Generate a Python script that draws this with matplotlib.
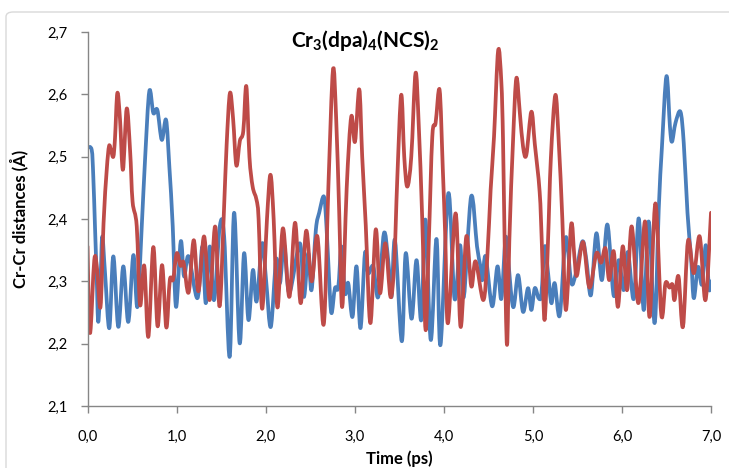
import numpy as np
import matplotlib.pyplot as plt
from matplotlib.patches import FancyBboxPatch, PathPatch
from matplotlib.path import Path

plt.rcParams["font.family"] = ["Lato", "DejaVu Sans"]
plt.rcParams["mathtext.default"] = "regular"

# time (ps) and Cr-Cr distance (Angstrom)
blue_t = [0.000, 0.047, 0.065, 0.084, 0.103, 0.121, 0.148, 0.166, 0.197, 0.245,
          0.290, 0.346, 0.402, 0.458, 0.515, 0.560, 0.609, 0.646, 0.694, 0.739,
          0.784, 0.834, 0.882, 0.919, 0.957, 0.994, 1.047, 1.084, 1.135, 1.234,
          1.290, 1.328, 1.373, 1.421, 1.485, 1.534, 1.596, 1.646, 1.708, 1.758,
          1.807, 1.857, 1.899, 1.961, 2.006, 2.058, 2.118, 2.160, 2.208, 2.266,
          2.384, 2.429, 2.478, 2.515, 2.564, 2.601, 2.654, 2.683, 2.713, 2.739,
          2.778, 2.815, 2.852, 2.890, 2.927, 2.975, 3.020, 3.065, 3.115, 3.152,
          3.208, 3.264, 3.328, 3.376, 3.413, 3.452, 3.528, 3.573, 3.638, 3.694,
          3.747, 3.794, 3.854, 3.918, 3.963, 4.051, 4.121, 4.183, 4.225, 4.307,
          4.373, 4.410, 4.433, 4.470, 4.543, 4.603, 4.646, 4.691, 4.713, 4.778,
          4.834, 4.890, 4.946, 4.983, 5.022, 5.065, 5.096, 5.133, 5.171, 5.208,
          5.245, 5.301, 5.360, 5.388, 5.433, 5.483, 5.556, 5.601, 5.652, 5.713,
          5.775, 5.837, 5.908, 5.964, 6.020, 6.067, 6.133, 6.189, 6.245, 6.301,
          6.367, 6.413, 6.449, 6.500, 6.539, 6.562, 6.601, 6.657, 6.694, 6.736,
          6.778, 6.807, 6.854, 6.899, 6.942, 6.978, 7.000]
blue_d = [2.515, 2.511, 2.468, 2.388, 2.308, 2.235, 2.310, 2.372, 2.313, 2.225,
          2.340, 2.227, 2.324, 2.235, 2.342, 2.259, 2.388, 2.495, 2.605, 2.570,
          2.575, 2.527, 2.559, 2.484, 2.388, 2.259, 2.364, 2.308, 2.340, 2.273,
          2.356, 2.265, 2.356, 2.270, 2.388, 2.372, 2.179, 2.410, 2.201, 2.345,
          2.238, 2.318, 2.268, 2.361, 2.300, 2.227, 2.335, 2.297, 2.358, 2.282,
          2.361, 2.275, 2.345, 2.286, 2.383, 2.410, 2.436, 2.388, 2.302, 2.249,
          2.289, 2.290, 2.356, 2.281, 2.297, 2.243, 2.324, 2.225, 2.345, 2.313,
          2.324, 2.275, 2.377, 2.334, 2.275, 2.366, 2.204, 2.345, 2.240, 2.334,
          2.238, 2.399, 2.206, 2.368, 2.198, 2.441, 2.272, 2.358, 2.275, 2.436,
          2.356, 2.325, 2.302, 2.340, 2.260, 2.324, 2.272, 2.366, 2.350, 2.259,
          2.310, 2.251, 2.289, 2.254, 2.289, 2.273, 2.280, 2.356, 2.313, 2.265,
          2.297, 2.245, 2.361, 2.358, 2.297, 2.313, 2.364, 2.334, 2.278, 2.377,
          2.302, 2.391, 2.277, 2.334, 2.286, 2.347, 2.272, 2.401, 2.254, 2.396,
          2.233, 2.415, 2.515, 2.629, 2.548, 2.524, 2.554, 2.572, 2.522, 2.410,
          2.334, 2.273, 2.323, 2.295, 2.358, 2.288, 2.300]

red_t = [0.000, 0.028, 0.076, 0.107, 0.146, 0.180, 0.216, 0.242, 0.264, 0.290,
         0.309, 0.335, 0.365, 0.398, 0.440, 0.478, 0.506, 0.553, 0.590, 0.637,
         0.683, 0.739, 0.787, 0.837, 0.885, 0.924, 0.961, 1.002, 1.045, 1.079,
         1.135, 1.193, 1.245, 1.309, 1.371, 1.433, 1.483, 1.531, 1.562, 1.599,
         1.635, 1.671, 1.710, 1.749, 1.783, 1.818, 1.854, 1.897, 1.921, 1.961,
         2.015, 2.054, 2.090, 2.133, 2.194, 2.266, 2.331, 2.393, 2.455, 2.517,
         2.581, 2.652, 2.704, 2.756, 2.792, 2.826, 2.860, 2.910, 2.961, 3.003,
         3.051, 3.084, 3.124, 3.176, 3.236, 3.284, 3.343, 3.402, 3.444, 3.478,
         3.522, 3.556, 3.590, 3.635, 3.683, 3.719, 3.758, 3.796, 3.831, 3.871,
         3.908, 3.953, 3.989, 4.017, 4.047, 4.133, 4.189, 4.253, 4.309, 4.357,
         4.444, 4.489, 4.526, 4.564, 4.610, 4.646, 4.665, 4.683, 4.710, 4.736,
         4.778, 4.815, 4.854, 4.890, 4.927, 4.983, 5.022, 5.076, 5.101, 5.131,
         5.169, 5.202, 5.253, 5.292, 5.331, 5.371, 5.430, 5.466, 5.494, 5.564,
         5.635, 5.713, 5.766, 5.815, 5.857, 5.908, 5.955, 6.009, 6.058, 6.110,
         6.185, 6.260, 6.311, 6.376, 6.442, 6.489, 6.534, 6.567, 6.590, 6.635,
         6.685, 6.742, 6.807, 6.873, 6.938, 7.000]
red_d = [2.356, 2.217, 2.334, 2.320, 2.259, 2.393, 2.479, 2.517, 2.510, 2.500,
         2.530, 2.602, 2.560, 2.479, 2.577, 2.510, 2.428, 2.388, 2.262, 2.325,
         2.211, 2.355, 2.228, 2.326, 2.226, 2.302, 2.303, 2.345, 2.325, 2.330,
         2.282, 2.366, 2.284, 2.372, 2.270, 2.388, 2.260, 2.410, 2.519, 2.602,
         2.560, 2.486, 2.525, 2.541, 2.613, 2.500, 2.452, 2.431, 2.400, 2.256,
         2.400, 2.471, 2.400, 2.258, 2.385, 2.275, 2.394, 2.265, 2.381, 2.300,
         2.372, 2.231, 2.450, 2.639, 2.560, 2.410, 2.259, 2.450, 2.564, 2.524,
         2.608, 2.500, 2.390, 2.233, 2.383, 2.281, 2.361, 2.275, 2.330, 2.465,
         2.599, 2.500, 2.452, 2.500, 2.634, 2.550, 2.400, 2.222, 2.360, 2.532,
         2.554, 2.607, 2.480, 2.370, 2.233, 2.409, 2.227, 2.372, 2.292, 2.332,
         2.270, 2.340, 2.447, 2.532, 2.670, 2.620, 2.527, 2.366, 2.198, 2.366,
         2.527, 2.626, 2.570, 2.516, 2.503, 2.572, 2.520, 2.444, 2.360, 2.238,
         2.360, 2.497, 2.599, 2.520, 2.400, 2.254, 2.391, 2.340, 2.309, 2.363,
         2.290, 2.345, 2.330, 2.353, 2.302, 2.348, 2.259, 2.356, 2.286, 2.388,
         2.265, 2.396, 2.243, 2.425, 2.246, 2.297, 2.290, 2.295, 2.270, 2.308,
         2.227, 2.365, 2.313, 2.372, 2.270, 2.410]

x_ticks = [0, 1, 2, 3, 4, 5, 6, 7]
y_ticks = [2.1, 2.2, 2.3, 2.4, 2.5, 2.6, 2.7]


def smooth_path(t, d):
    # spreadsheet-style "smoothed line": cubic Bezier through every data point
    p = np.column_stack([t, d])
    q = np.vstack([p[0], p, p[-1]])
    verts = [p[0]]
    codes = [Path.MOVETO]
    for i in range(len(p) - 1):
        c1 = p[i] + (q[i + 2] - q[i]) / 6
        c2 = p[i + 1] - (q[i + 3] - q[i + 1]) / 6
        verts += [c1, c2, p[i + 1]]
        codes += [Path.CURVE4] * 3
    return Path(verts, codes)


fig = plt.figure(figsize=(7.29, 4.68), dpi=100)
# light chart-area frame like the spreadsheet export
fig.patches.append(FancyBboxPatch((6 / 729, -0.05), 1.05, 1 - 12 / 468 + 0.05,
                                  boxstyle="round,pad=0,rounding_size=0.01",
                                  transform=fig.transFigure, fill=False,
                                  edgecolor="#D9D9D9", linewidth=1.0))
ax = fig.add_axes([87.5 / 729, 1 - 406 / 468, (711 - 87.5) / 729, (406 - 32) / 468])

for t, d, col in [(blue_t, blue_d, "#4A7EBB"), (red_t, red_d, "#BE4B48")]:
    ax.add_patch(PathPatch(smooth_path(t, d), fill=False, edgecolor=col,
                           lw=2.7, joinstyle="round", capstyle="round"))

ax.set_xlim(0, 7)
ax.set_ylim(2.1, 2.7)
ax.set_xticks(x_ticks)
ax.set_xticklabels([f"{v:.1f}".replace(".", ",") for v in x_ticks])
ax.set_yticks(y_ticks)
ax.set_yticklabels([f"{v:.1f}".replace(".", ",") for v in y_ticks])

for s in ["top", "right"]:
    ax.spines[s].set_visible(False)
for s in ["left", "bottom"]:
    ax.spines[s].set_color("#868686")
    ax.spines[s].set_linewidth(1.0)
ax.tick_params(axis="both", direction="out", length=5, width=1.0,
               color="#868686", labelsize=10.5)
ax.tick_params(axis="y", pad=9)
ax.tick_params(axis="x", pad=12)

ax.set_xlabel("Time (ps)", fontsize=12, fontweight="bold", labelpad=5)
ax.set_ylabel("Cr-Cr distances (Å)", fontsize=12, fontweight="bold", labelpad=14)
ax.text(0.445, 0.978, r"Cr$_{3}$(dpa)$_{4}$(NCS)$_{2}$", transform=ax.transAxes,
        ha="center", va="center", fontsize=15, fontweight="bold")

fig.savefig("out.png", dpi=100)
